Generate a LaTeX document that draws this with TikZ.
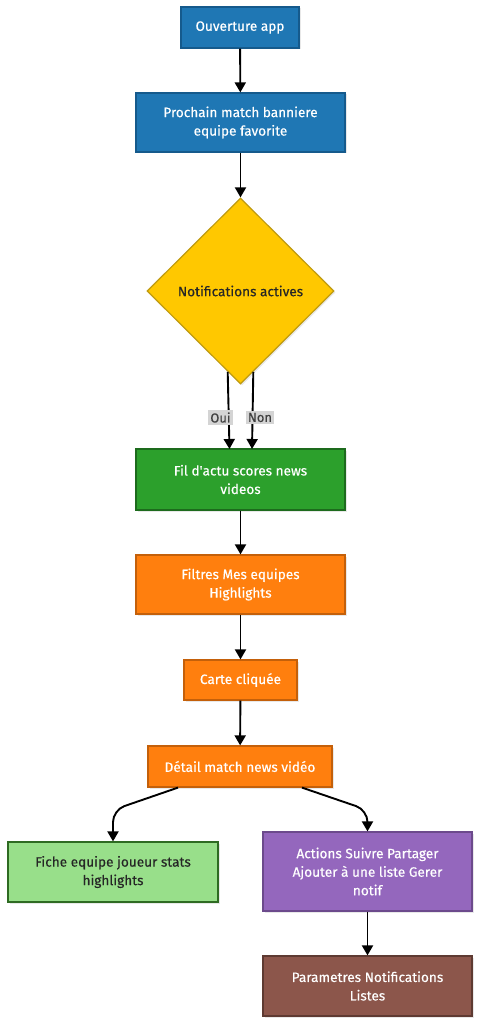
\documentclass[tikz,border=0pt]{standalone}
\usepackage{fontspec}
\setmainfont{Fira Sans}[FakeBold=0.35]
\usetikzlibrary{shapes.geometric,arrows.meta,shadows,calc}
\definecolor{cblue}{HTML}{1F77B4}\definecolor{cblueB}{HTML}{155A8C}
\definecolor{cgreen}{HTML}{2CA02C}\definecolor{cgreenB}{HTML}{1D6B1D}
\definecolor{corange}{HTML}{FF7F0E}\definecolor{corangeB}{HTML}{C4600A}
\definecolor{cyellow}{HTML}{FFC800}\definecolor{cyellowB}{HTML}{BF9A10}
\definecolor{cpurple}{HTML}{9467BD}\definecolor{cpurpleB}{HTML}{6C4A8C}
\definecolor{cbrown}{HTML}{8C564B}\definecolor{cbrownB}{HTML}{5E3A32}
\definecolor{clgreen}{HTML}{98DF8A}\definecolor{clgreenB}{HTML}{2E6B22}
\definecolor{clabel}{HTML}{D4D4D4}
\tikzset{
  box/.style={draw, line width=1.2pt, align=center, font=\fontsize{13.6}{18.5}\selectfont,
    inner sep=0pt, drop shadow={opacity=0.18, shadow xshift=1.5pt, shadow yshift=-1.5pt}},
  blue/.style={box, fill=cblue, draw=cblueB, text=white},
  green/.style={box, fill=cgreen, draw=cgreenB, text=white},
  orange/.style={box, fill=corange, draw=corangeB, text=white},
  purple/.style={box, fill=cpurple, draw=cpurpleB, text=white},
  brown/.style={box, fill=cbrown, draw=cbrownB, text=white},
  lgreen/.style={box, fill=clgreen, draw=clgreenB, text=black!85},
  arr/.style={line width=1.9pt, -{Triangle[length=10pt,width=11pt]}},
  lab/.style={fill=clabel, text=black!75, font=\fontsize{13}{15}\selectfont, inner sep=2pt}
}
\begin{document}
\begin{tikzpicture}[x=1pt,y=-1pt]
\useasboundingbox (0,0) rectangle (481,1024);
\node[blue, minimum width=118pt, minimum height=41pt] (a) at (240,27.5) {Ouverture app};
\node[blue, minimum width=209pt, minimum height=59pt] (b) at (240.5,122.5) {Prochain match banniere\\equipe favorite};
\node[diamond, draw=cyellowB, fill=cyellow, line width=1.2pt, minimum width=187pt, minimum height=186pt,
  inner sep=0pt, font=\fontsize{13.6}{18.5}\selectfont, text=black!85,
  drop shadow={opacity=0.18, shadow xshift=1.5pt, shadow yshift=-1.5pt}] (d) at (240.5,291) {Notifications actives};
\node[green, minimum width=209pt, minimum height=61pt] (f) at (240.5,479.5) {Fil d\textquotesingle actu scores news\\videos};
\node[orange, minimum width=209pt, minimum height=59pt] (g) at (240.5,584.5) {Filtres Mes equipes\\Highlights};
\node[orange, minimum width=113pt, minimum height=40pt] (h) at (240.5,680) {Carte cliquée};
\node[orange, minimum width=184pt, minimum height=41pt] (i) at (240,766.5) {Détail match news vidéo};
\node[lgreen, minimum width=210pt, minimum height=60pt] (j) at (113,872) {Fiche equipe joueur stats\\highlights};
\node[purple, minimum width=209pt, minimum height=79pt] (k) at (367.5,871.5) {Actions Suivre Partager\\Ajouter à une liste Gerer\\notif};
\node[brown, minimum width=209pt, minimum height=60pt] (l) at (367.5,986) {Parametres Notifications\\Listes};

\draw[arr] (a) -- (b);
\draw[arr] (b) -- (d);
\coordinate (fo) at (229.5,449);
\coordinate (fn) at (252,449);
\draw[arr] (d.-99) -- (fo);
\draw[arr] (d.-81) -- (fn);
\node[lab] (oui) at (220.5,417.5) {Oui};
\node[lab] (non) at (260,417.5) {Non};
\draw[arr] (f) -- (g);
\draw[arr] (g) -- (h);
\draw[arr] (h) -- (i);
\coordinate (il) at ($(i.south)+(-62,0)$);
\coordinate (ir) at ($(i.south)+(62,0)$);
\coordinate (cl) at (113,810);
\coordinate (cr) at (367.5,810);
\draw[arr, rounded corners=12pt] (il) -- (cl) -- (j.north);
\draw[arr, rounded corners=12pt] (ir) -- (cr) -- (k.north);
\draw[arr] (k) -- (l);
\end{tikzpicture}
\end{document}
